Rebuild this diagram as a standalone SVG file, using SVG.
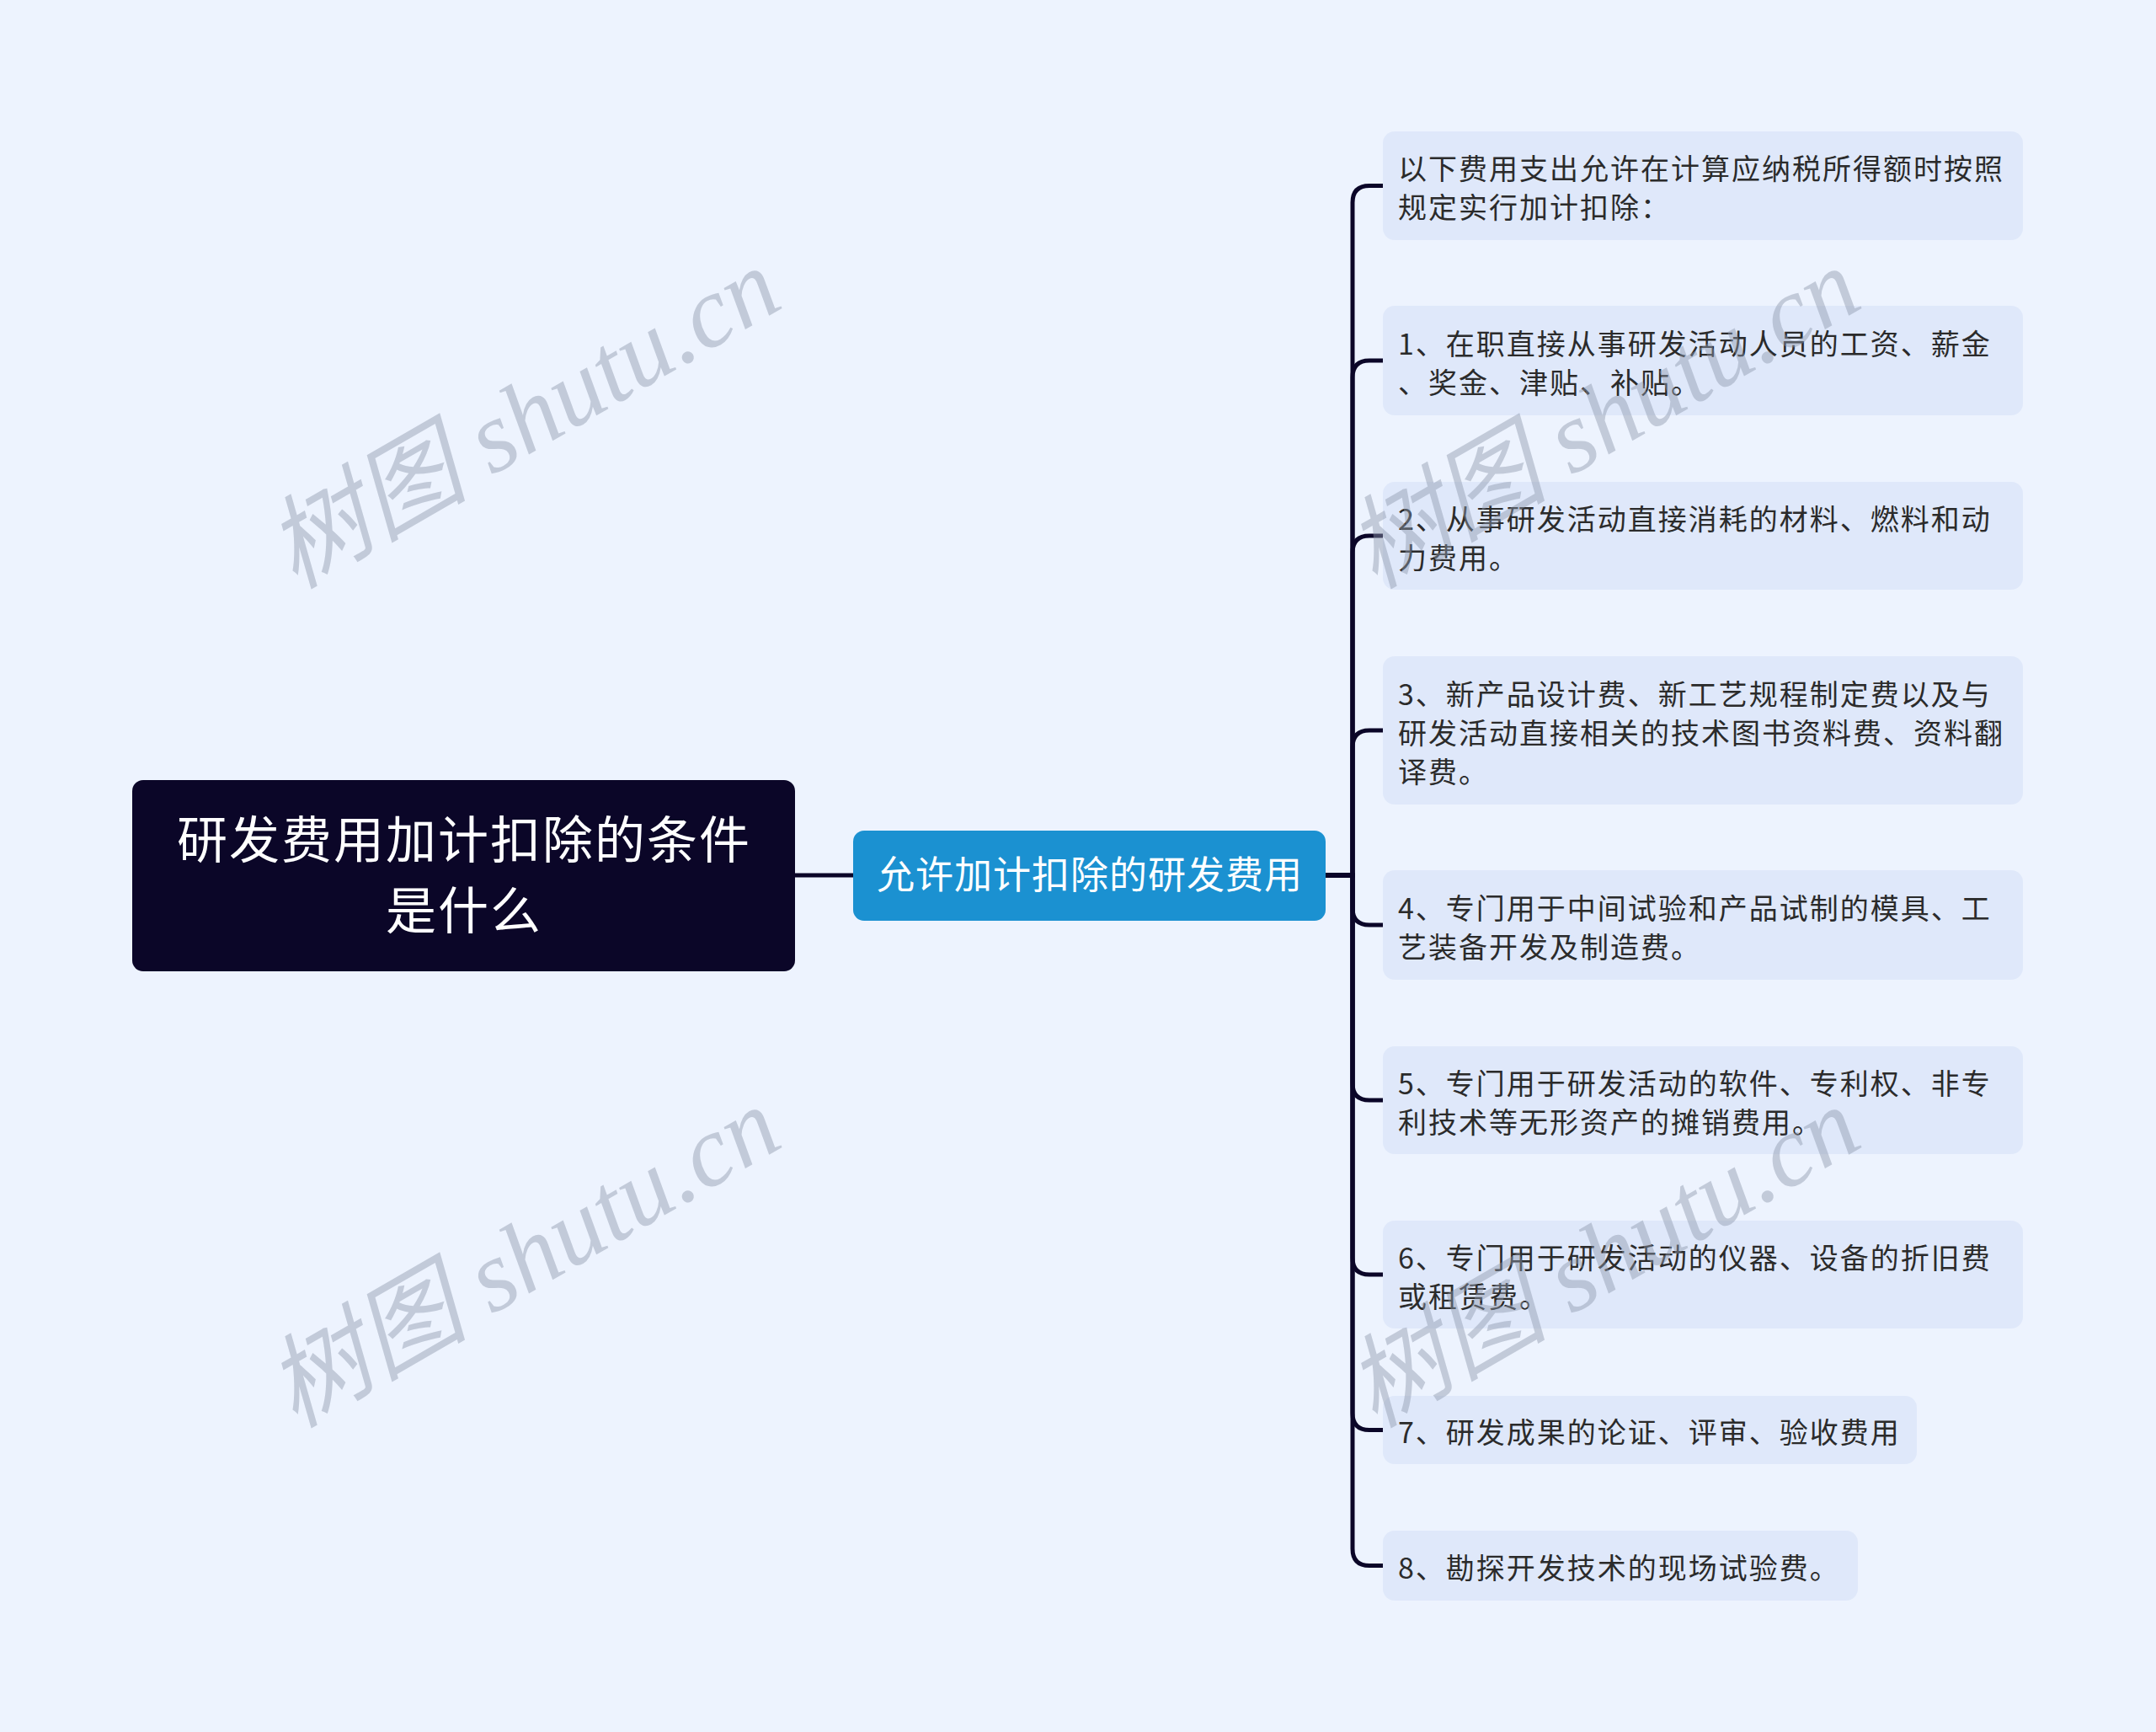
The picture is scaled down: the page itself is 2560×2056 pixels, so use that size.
<svg xmlns="http://www.w3.org/2000/svg" width="2560" height="2056" viewBox="0 0 2560 2056">
<style>
.bg{fill:#edf3fe}
.leaf rect{fill:#dfe8fa}
.leaf text{font-family:"Noto Sans CJK SC","Noto Sans",sans-serif;font-size:34px;letter-spacing:2px;fill:#2b2b2b}
.conn path{fill:none;stroke:#0b0628;stroke-width:5}
.wm{font-family:"Liberation Serif","Noto Sans CJK SC",serif;font-style:italic;font-size:120px;fill:#8f99ad;fill-opacity:0.45}
</style>
<rect class="bg" x="0" y="0" width="2560" height="2056"/>
<g id="connectors" class="conn">
<path d="M944 1039 H1013"/>
<path d="M1574 1039 H1606 V240.5 Q1606 220.5 1626 220.5 H1642"/>
<path d="M1574 1039 H1606 V448 Q1606 428 1626 428 H1642"/>
<path d="M1574 1039 H1606 V656 Q1606 636 1626 636 H1642"/>
<path d="M1574 1039 H1606 V887 Q1606 867 1626 867 H1642"/>
<path d="M1574 1039 H1606 V1078 Q1606 1098 1626 1098 H1642"/>
<path d="M1574 1039 H1606 V1286 Q1606 1306 1626 1306 H1642"/>
<path d="M1574 1039 H1606 V1493 Q1606 1513 1626 1513 H1642"/>
<path d="M1574 1039 H1606 V1677.5 Q1606 1697.5 1626 1697.5 H1642"/>
<path d="M1574 1039 H1606 V1838.5 Q1606 1858.5 1626 1858.5 H1642"/>
</g>
<g id="root">
<rect x="157" y="926" width="787" height="227" rx="13" fill="#0b0628"/>
<text x="551" y="1019" text-anchor="middle" font-family="'Noto Sans CJK SC','Noto Sans',sans-serif" font-size="60" letter-spacing="2" fill="#ffffff">研发费用加计扣除的条件</text>
<text x="551" y="1103" text-anchor="middle" font-family="'Noto Sans CJK SC','Noto Sans',sans-serif" font-size="60" letter-spacing="2" fill="#ffffff">是什么</text>
</g>
<g id="middle">
<rect x="1013" y="986" width="561" height="107" rx="13" fill="#1b91d1"/>
<text x="1294" y="1055" text-anchor="middle" font-family="'Noto Sans CJK SC','Noto Sans',sans-serif" font-size="45" letter-spacing="1" fill="#ffffff">允许加计扣除的研发费用</text>
</g>
<g id="leaf0" class="leaf">
<rect x="1642" y="156" width="760" height="129" rx="14"/>
<text x="1660" y="213">以下费用支出允许在计算应纳税所得额时按照</text>
<text x="1660" y="259">规定实行加计扣除：</text>
</g>
<g id="leaf1" class="leaf">
<rect x="1642" y="363" width="760" height="130" rx="14"/>
<text x="1660" y="420.5">1、在职直接从事研发活动人员的工资、薪金</text>
<text x="1660" y="466.5">、奖金、津贴、补贴。</text>
</g>
<g id="leaf2" class="leaf">
<rect x="1642" y="572" width="760" height="128" rx="14"/>
<text x="1660" y="628.5">2、从事研发活动直接消耗的材料、燃料和动</text>
<text x="1660" y="674.5">力费用。</text>
</g>
<g id="leaf3" class="leaf">
<rect x="1642" y="779" width="760" height="176" rx="14"/>
<text x="1660" y="836.5">3、新产品设计费、新工艺规程制定费以及与</text>
<text x="1660" y="882.5">研发活动直接相关的技术图书资料费、资料翻</text>
<text x="1660" y="928.5">译费。</text>
</g>
<g id="leaf4" class="leaf">
<rect x="1642" y="1033" width="760" height="130" rx="14"/>
<text x="1660" y="1090.5">4、专门用于中间试验和产品试制的模具、工</text>
<text x="1660" y="1136.5">艺装备开发及制造费。</text>
</g>
<g id="leaf5" class="leaf">
<rect x="1642" y="1242" width="760" height="128" rx="14"/>
<text x="1660" y="1298.5">5、专门用于研发活动的软件、专利权、非专</text>
<text x="1660" y="1344.5">利技术等无形资产的摊销费用。</text>
</g>
<g id="leaf6" class="leaf">
<rect x="1642" y="1449" width="760" height="128" rx="14"/>
<text x="1660" y="1505.5">6、专门用于研发活动的仪器、设备的折旧费</text>
<text x="1660" y="1551.5">或租赁费。</text>
</g>
<g id="leaf7" class="leaf">
<rect x="1642" y="1657" width="634" height="81" rx="14"/>
<text x="1660" y="1712.5">7、研发成果的论证、评审、验收费用</text>
</g>
<g id="leaf8" class="leaf">
<rect x="1642" y="1817" width="564" height="83" rx="14"/>
<text x="1660" y="1873.5">8、勘探开发技术的现场试验费。</text>
</g>
<g id="watermarks">
<text class="wm" transform="translate(350,700) rotate(-30)">树图 shutu.cn</text>
<text class="wm" transform="translate(350,1696) rotate(-30)">树图 shutu.cn</text>
<text class="wm" transform="translate(1632,700) rotate(-30)">树图 shutu.cn</text>
<text class="wm" transform="translate(1632,1696) rotate(-30)">树图 shutu.cn</text>
</g>
</svg>
